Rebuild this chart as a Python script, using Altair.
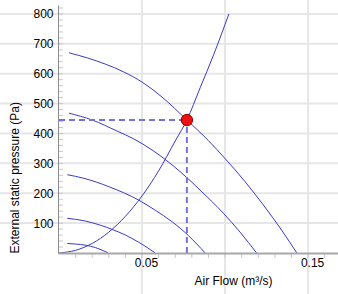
import altair as alt
import pandas as pd

# ---- data ----
fan_names = ["Speed 1", "Speed 2", "Speed 3", "Speed 4", "Speed 5"]
fan_q = [
    [0.006, 0.017, 0.028, 0.039, 0.05, 0.062, 0.077, 0.09, 0.1, 0.112, 0.123, 0.134, 0.1432],
    [0.006, 0.02, 0.035, 0.045, 0.056, 0.073, 0.086, 0.099, 0.109, 0.119],
    [0.005, 0.015, 0.03, 0.048, 0.058, 0.068, 0.078, 0.088],
    [0.005, 0.015, 0.025, 0.032, 0.04, 0.048, 0.058],
    [0.005, 0.01, 0.016, 0.022, 0.0297],
]
fan_p = [
    [670, 653, 632, 606, 572, 522, 445, 376, 316, 239, 161, 77, 0],
    [468, 445, 408, 382, 345, 272, 205, 133, 70, 0],
    [262, 250, 222, 177, 143, 105, 58, 0],
    [116, 108, 93, 79, 60, 36, 0],
    [32, 30, 26, 18, 0],
]
sys_q = [0, 0.01, 0.02, 0.03, 0.04, 0.05, 0.06, 0.07, 0.077, 0.085, 0.093, 0.1023]
sys_p = [0, 9, 32, 70, 123, 191, 275, 375, 445, 553, 662, 800]
op_q = [0.077]
op_p = [445]

x_label_values = [0.05, 0.15]
x_grid_values = [0.05, 0.1, 0.15]
y_label_values = [100, 200, 300, 400, 500, 600, 700, 800]
x_minor_values = [0.01, 0.02, 0.03, 0.04, 0.05, 0.06, 0.07, 0.08, 0.09, 0.10,
                  0.11, 0.12, 0.13, 0.14, 0.15, 0.16]
y_minor_values = [20, 40, 60, 80, 100, 120, 140, 160, 180, 200, 220, 240, 260, 280,
                  300, 320, 340, 360, 380, 400, 420, 440, 460, 480, 500, 520, 540,
                  560, 580, 600, 620, 640, 660, 680, 700, 720, 740, 760, 780, 800, 820]

# ---- tables ----
fan_rows = []
for name, qs, ps in zip(fan_names, fan_q, fan_p):
    for i, (q, p) in enumerate(zip(qs, ps)):
        fan_rows.append({"curve": name, "i": i, "q": q, "p": p})
fan_df = pd.DataFrame(fan_rows)
sys_df = pd.DataFrame({"q": sys_q, "p": sys_p, "i": range(len(sys_q))})
op_df = pd.DataFrame({"q": op_q, "p": op_p, "q0": [0.0] * len(op_q), "p0": [0] * len(op_p)})
hgrid_df = pd.DataFrame({"p": y_label_values})
vgrid_df = pd.DataFrame({"q": x_grid_values})
xminor_df = pd.DataFrame({"q": x_minor_values})
yminor_df = pd.DataFrame({"p": y_minor_values})

FONT = "Liberation Sans"
LINE = "#3a3ac8"
DASH = "#7373dc"
GRID = "#e6e6e6"
MINOR = "#c8c8c8"

xscale = alt.Scale(domain=[-0.0006, 0.168], nice=False, zero=False)
yscale = alt.Scale(domain=[0, 830], nice=False, zero=False)

x_axis = alt.Axis(
    values=x_label_values, format=".2f", grid=False, ticks=False,
    domainColor="#a8a8a8", domainWidth=2,
    labelFont=FONT, labelFontSize=12, labelColor="#000000", labelPadding=4,
    tickOffset=4,
    labelOverlap=False, labelFlush=False,
    title="Air Flow (m³/s)", titleFont=FONT, titleFontSize=12, titleFontWeight="normal",
    titleColor="#000000", titleX=175, titleY=31, titleAlign="center",
    titleBaseline="alphabetic", zindex=1,
)
y_axis = alt.Axis(
    values=y_label_values, grid=False, ticks=False,
    domainColor="#8c8c8c", domainWidth=1,
    labelFont=FONT, labelFontSize=12, labelColor="#000000", labelPadding=5,
    labelOverlap=False, labelFlush=False,
    title="External static pressure (Pa)", titleFont=FONT, titleFontSize=12,
    titleFontWeight="normal", titleColor="#000000", titleAngle=270,
    titleAlign="left", titleBaseline="middle", titleX=-43.5, titleY=248, zindex=1,
)


def X(field="q"):
    return alt.X(f"{field}:Q", scale=xscale, axis=x_axis)


def Y(field="p"):
    return alt.Y(f"{field}:Q", scale=yscale, axis=y_axis)


hgrid = alt.Chart(hgrid_df).mark_rule(color=GRID, strokeWidth=2).encode(
    y=Y(), x=alt.value(-58), x2=alt.value(280)
)
vgrid = alt.Chart(vgrid_df).mark_rule(color=GRID, strokeWidth=2).encode(
    x=X(), y=alt.value(-5), y2=alt.value(289)
)
xminor = alt.Chart(xminor_df).mark_rule(color=MINOR, strokeWidth=1).encode(
    x=X(), y=alt.value(249), y2=alt.value(253)
)
yminor = alt.Chart(yminor_df).mark_rule(color=MINOR, strokeWidth=1).encode(
    y=Y(), x=alt.value(1), x2=alt.value(5)
)
fans = alt.Chart(fan_df).mark_line(color=LINE, strokeWidth=1, interpolate="monotone").encode(
    x=X(), y=Y(), detail="curve:N", order="i:O"
)
system = alt.Chart(sys_df).mark_line(color=LINE, strokeWidth=1, interpolate="monotone").encode(
    x=X(), y=Y(), order="i:O"
)
hdash = alt.Chart(op_df).mark_rule(color=DASH, strokeWidth=2, strokeDash=[6, 4]).encode(
    x=X("q0"), x2="q:Q", y=Y()
)
vdash = alt.Chart(op_df).mark_rule(color=DASH, strokeWidth=2, strokeDash=[6, 4]).encode(
    x=X(), y=Y("p0"), y2="p:Q"
)
point = alt.Chart(op_df).mark_point(
    filled=True, shape="circle", size=130, fill="#ee1111", stroke="#8a0000",
    strokeWidth=1, opacity=1
).encode(x=X(), y=Y())

chart = alt.layer(
    hgrid, vgrid, xminor, yminor, fans, system, hdash, vdash, point
).properties(
    width=280, height=248,
    padding={"left": 58, "top": 5, "right": 0, "bottom": 41},
    autosize=alt.AutoSizeParams(type="none"),
    background="white",
).configure_view(stroke=None)

chart.save("out.html", embed_options={"renderer": "svg", "actions": False})
